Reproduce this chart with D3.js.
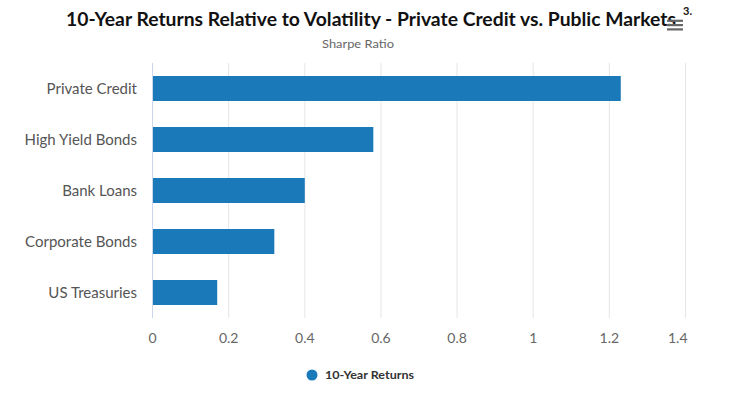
<!DOCTYPE html>
<html>
<head>
<meta charset="utf-8">
<script src="https://cdn.jsdelivr.net/npm/d3@7"></script>
<style>
  body { margin: 0; background: #fff; }
  svg { display: block; font-family: Lato, "Open Sans", sans-serif; }
</style>
</head>
<body>
<svg id="chart"></svg>
<script>
const categories = ['Private Credit', 'High Yield Bonds', 'Bank Loans', 'Corporate Bonds', 'US Treasuries'];
const sharpeValues = [1.23, 0.58, 0.40, 0.32, 0.17];
const xTicks = [0, 0.2, 0.4, 0.6, 0.8, 1, 1.2, 1.4];
const seriesName = '10-Year Returns';

const width = 751;
const height = 401;
const margin = { top: 63, right: 66, bottom: 83, left: 152 };

const svg = d3.select('#chart')
    .attr('width', width)
    .attr('height', height)
    .attr('viewBox', `0 0 ${width} ${height}`);

const x = d3.scaleLinear()
    .domain([0, 1.4])
    .range([margin.left, width - margin.right]);

const y = d3.scaleBand()
    .domain(categories)
    .range([margin.top, height - margin.bottom])
    .paddingInner(0.51)
    .paddingOuter(0.255);

// title + subtitle
svg.append('text')
    .attr('x', 66)
    .attr('y', 26)
    .attr('font-size', 18)
    .attr('font-weight', 'bold')
    .attr('fill', '#111')
    .attr('textLength', 610)
    .attr('lengthAdjust', 'spacingAndGlyphs')
    .text('10-Year Returns Relative to Volatility - Private Credit vs. Public Markets');

svg.append('text')
    .attr('x', 683)
    .attr('y', 15)
    .attr('font-size', 11)
    .attr('font-weight', 'bold')
    .attr('fill', '#111')
    .text('3.');

svg.append('text')
    .attr('x', 322)
    .attr('y', 48)
    .attr('font-size', 12)
    .attr('fill', '#666')
    .attr('textLength', 72)
    .attr('lengthAdjust', 'spacingAndGlyphs')
    .text('Sharpe Ratio');

// export menu icon
[20.7, 25, 29.3].forEach(yy => {
    svg.append('rect')
        .attr('x', 667).attr('y', yy - 1)
        .attr('width', 16).attr('height', 2.2)
        .attr('fill', '#666');
});

// vertical grid lines
svg.append('g')
    .selectAll('line')
    .data(xTicks.slice(1))
    .join('line')
    .attr('x1', d => x(d) + 0.5)
    .attr('x2', d => x(d) + 0.5)
    .attr('y1', margin.top)
    .attr('y2', height - margin.bottom)
    .attr('stroke', '#e6e6e6')
    .attr('stroke-width', 1);

// x axis labels
const xAxis = d3.axisBottom(x)
    .tickValues(xTicks)
    .tickSize(0)
    .tickPadding(15)
    .tickFormat(d3.format('~g'));

const gx = svg.append('g')
    .attr('transform', `translate(0,${height - margin.bottom})`)
    .call(xAxis);
gx.select('.domain').remove();
gx.selectAll('text')
    .attr('font-size', 14)
    .attr('fill', '#666')
    .attr('font-family', 'Lato, "Open Sans", sans-serif');
// last label is pulled inside the plot, like the original
gx.selectAll('.tick').filter(d => d === xTicks[xTicks.length - 1])
    .select('text')
    .attr('text-anchor', 'end')
    .attr('x', 2);

// category labels
const yAxis = d3.axisLeft(y).tickSize(0).tickPadding(15);
const gy = svg.append('g')
    .attr('transform', `translate(${margin.left},1)`)
    .call(yAxis);
gy.select('.domain').remove();
gy.selectAll('text')
    .attr('font-size', 15)
    .attr('fill', '#555')
    .attr('font-family', 'Lato, "Open Sans", sans-serif');

// bars
svg.append('g')
    .selectAll('rect')
    .data(categories)
    .join('rect')
    .attr('x', x(0) + 0.5)
    .attr('y', d => y(d))
    .attr('width', (d, i) => x(sharpeValues[i]) - x(0))
    .attr('height', y.bandwidth())
    .attr('fill', '#1a7ab9');

// axis line at zero
svg.append('line')
    .attr('x1', x(0) + 0.5).attr('x2', x(0) + 0.5)
    .attr('y1', margin.top).attr('y2', height - margin.bottom)
    .attr('stroke', '#ccd6eb');

// legend
svg.append('circle')
    .attr('cx', 312).attr('cy', 375).attr('r', 5.5)
    .attr('fill', '#1a7ab9');
svg.append('text')
    .attr('x', 325).attr('y', 379)
    .attr('font-size', 12)
    .attr('font-weight', 'bold')
    .attr('fill', '#333')
    .attr('textLength', 89)
    .attr('lengthAdjust', 'spacingAndGlyphs')
    .text(seriesName);
</script>
</body>
</html>
